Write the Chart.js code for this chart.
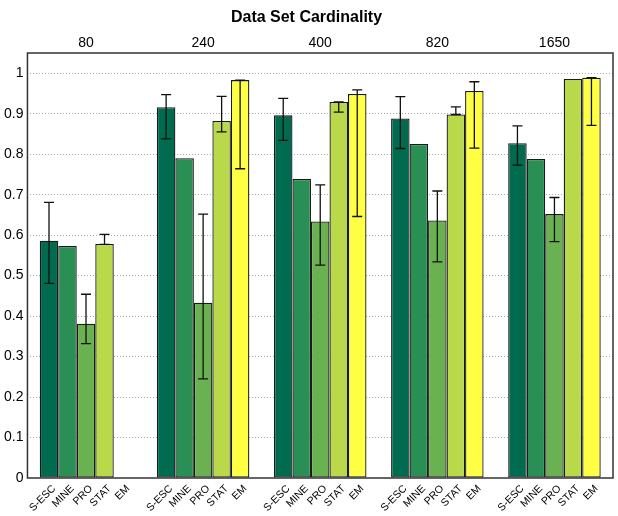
<!DOCTYPE html>
<html>
<head>
<meta charset="utf-8">
<script src="https://cdn.jsdelivr.net/npm/chart.js@4.4.0/dist/chart.umd.min.js"></script>
<style>
  html, body { margin: 0; padding: 0; background: #fff; }
  #wrap { width: 618px; height: 516px; }
</style>
</head>
<body>
<div id="wrap"><canvas id="chart" width="618" height="516"></canvas></div>
<script>
// cardinalities (top axis) and methods (bars inside each group)
var cardinality = ["80", "240", "400", "820", "1650"];
var methods = ["S-ESC", "MINE", "PRO", "STAT", "EM"];

// bar heights, one array per method
var sesc = [0.586, 0.916, 0.896, 0.888, 0.827];
var mine = [0.573, 0.790, 0.739, 0.825, 0.788];
var pro  = [0.381, 0.433, 0.634, 0.636, 0.652];
var stat = [0.578, 0.882, 0.929, 0.898, 0.986];
var em   = [null,  0.983, 0.949, 0.956, 0.989];

// error bar ends (null = no error bar)
var sescLow  = [0.481, 0.838, 0.834, 0.814, 0.773];
var sescHigh = [0.681, 0.947, 0.938, 0.942, 0.870];
var mineLow  = [null, null, null, null, null];
var mineHigh = [null, null, null, null, null];
var proLow   = [0.332, 0.245, 0.526, 0.534, 0.584];
var proHigh  = [0.454, 0.652, 0.724, 0.709, 0.693];
var statLow  = [0.577, 0.855, 0.904, 0.898, null];
var statHigh = [0.602, 0.943, 0.929, 0.917, null];
var emLow    = [null, 0.764, 0.646, 0.815, 0.871];
var emHigh   = [null, 0.983, 0.959, 0.979, 0.989];

var yTicks = [0, 0.1, 0.2, 0.3, 0.4, 0.5, 0.6, 0.7, 0.8, 0.9, 1];

var colors = ["#006b4f", "#2a8f55", "#6ab251", "#b9d94b", "#ffff44"];
var values = [sesc, mine, pro, stat, em];
var lows = [sescLow, mineLow, proLow, statLow, emLow];
var highs = [sescHigh, mineHigh, proHigh, statHigh, emHigh];

var FONT = "'Liberation Sans', Arial, Helvetica, sans-serif";

var extras = {
    id: 'extras',
    afterDatasetsDraw: function(chart) {
        var ctx = chart.ctx;
        var y = chart.scales.y;
        var area = chart.chartArea;

        // error bars
        ctx.save();
        ctx.strokeStyle = "#111";
        ctx.lineWidth = 1.3;
        for (var i = 0; i < methods.length; i++) {
            var meta = chart.getDatasetMeta(i);
            for (var j = 0; j < cardinality.length; j++) {
                if (lows[i][j] == null) continue;
                var x = meta.data[j].x;
                var yl = y.getPixelForValue(lows[i][j]);
                var yh = y.getPixelForValue(highs[i][j]);
                ctx.beginPath();
                ctx.moveTo(x, yl); ctx.lineTo(x, yh);
                ctx.moveTo(x - 5, yl); ctx.lineTo(x + 5, yl);
                ctx.moveTo(x - 5, yh); ctx.lineTo(x + 5, yh);
                ctx.stroke();
            }
        }
        ctx.restore();

        // frame
        ctx.save();
        ctx.strokeStyle = "#333";
        ctx.lineWidth = 1.5;
        ctx.strokeRect(area.left, area.top, area.right - area.left, area.bottom - area.top);
        ctx.restore();

        // method names under every bar
        ctx.save();
        ctx.fillStyle = "#000";
        ctx.font = "10.5px " + FONT;
        ctx.textAlign = "right";
        ctx.textBaseline = "middle";
        for (var i = 0; i < methods.length; i++) {
            var meta = chart.getDatasetMeta(i);
            for (var j = 0; j < cardinality.length; j++) {
                var bx = meta.data[j].x;
                ctx.save();
                ctx.translate(bx + 5, area.bottom + 9);
                ctx.rotate(-Math.PI / 4);
                ctx.fillText(methods[i], 0, 0);
                ctx.restore();
            }
        }
        ctx.restore();
    }
};

var datasets = methods.map(function(m, i) {
    return {
        label: m,
        data: values[i],
        backgroundColor: colors[i],
        borderColor: "#1a1a1a",
        borderWidth: 1.3,
        borderSkipped: false
    };
});

var ctx = document.getElementById("chart");
var chart = new Chart(ctx, {
    type: 'bar',
    data: { labels: cardinality, datasets: datasets },
    plugins: [extras],
    options: {
        responsive: false,
        animation: false,
        layout: { padding: { left: 0, right: 5, top: 0, bottom: 38 } },
        datasets: { bar: { categoryPercentage: 0.79, barPercentage: 1.0 } },
        plugins: {
            legend: { display: false },
            tooltip: { enabled: false },
            title: {
                display: true,
                text: "Data Set Cardinality",
                color: "#000",
                font: { family: FONT, size: 16, weight: 'bold' },
                padding: { top: 8, bottom: 7 }
            }
        },
        scales: {
            x: {
                position: 'top',
                grid: { display: false, drawTicks: false },
                border: { display: false },
                ticks: { color: "#000", padding: 1, font: { family: FONT, size: 14 }, maxRotation: 0 }
            },
            y: {
                min: 0,
                max: 1.05,
                afterBuildTicks: function(scale) {
                    scale.ticks = yTicks.map(function(v) { return { value: v }; });
                },
                grid: {
                    color: function(c) { return c.tick.value === 0 ? 'rgba(0,0,0,0)' : '#aaa'; },
                    lineWidth: 1,
                    drawTicks: false
                },
                border: { display: false, dash: [1, 2] },
                ticks: {
                    color: "#000",
                    padding: 4,
                    font: { family: FONT, size: 14 },
                    callback: function(v) { return String(+(+v).toFixed(1)); }
                }
            }
        }
    }
});
</script>
</body>
</html>
